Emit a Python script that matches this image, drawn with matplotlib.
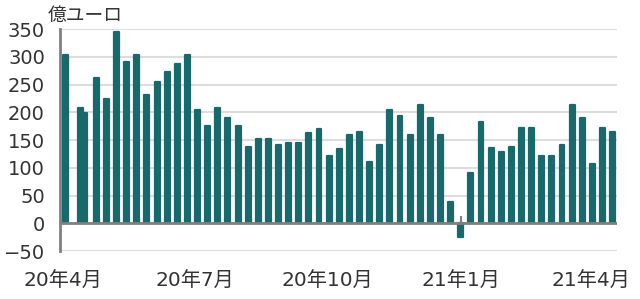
import numpy as np
import pandas as pd
import matplotlib
matplotlib.use('Agg')
import matplotlib.pyplot as plt
import matplotlib.dates as mdates

plt.rcParams['font.family'] = ['DejaVu Sans', 'Noto Sans CJK JP']

# weekly flows, 100 million euro
dates = pd.to_datetime([
    '2020-04-03', '2020-04-13', '2020-04-16', '2020-04-24', '2020-05-01',
    '2020-05-08', '2020-05-15', '2020-05-22', '2020-05-29', '2020-06-05',
    '2020-06-12', '2020-06-19', '2020-06-26', '2020-07-03', '2020-07-10',
    '2020-07-17', '2020-07-24', '2020-07-31', '2020-08-07', '2020-08-14',
    '2020-08-21', '2020-08-28', '2020-09-04', '2020-09-11', '2020-09-18',
    '2020-09-25', '2020-10-02', '2020-10-09', '2020-10-16', '2020-10-23',
    '2020-10-30', '2020-11-06', '2020-11-13', '2020-11-20', '2020-11-27',
    '2020-12-04', '2020-12-11', '2020-12-18', '2020-12-25', '2021-01-01',
    '2021-01-08', '2021-01-15', '2021-01-22', '2021-01-29', '2021-02-05',
    '2021-02-12', '2021-02-19', '2021-02-26', '2021-03-05', '2021-03-12',
    '2021-03-19', '2021-03-26', '2021-04-02', '2021-04-09', '2021-04-16',
])
values = [
    303, 207, 199, 262, 224,
    345, 290, 303, 231, 255,
    272, 287, 303, 204, 176,
    207, 190, 176, 138, 152,
    152, 141, 145, 145, 162,
    170, 122, 134, 159, 165,
    111, 141, 204, 194, 159,
    214, 190, 159, 38, -25,
    90, 183, 135, 128, 138,
    172, 172, 122, 122, 141,
    214, 190, 107, 172, 165,
]
tick_dates = pd.to_datetime(['2020-04-01', '2020-07-01', '2020-10-01',
                             '2021-01-01', '2021-04-01'])
tick_labels = ['20年4月', '20年7月', '20年10月', '21年1月', '21年4月']
yticks = list(range(-50, 351, 50))

bar_color = '#17696b'
text_color = '#333333'

fig = plt.figure(figsize=(6.4, 2.99), dpi=100)
ax = fig.add_axes([0.094, 0.160, 0.870, 0.743])

ax.bar(dates, values, width=3.4, color=bar_color, edgecolor=bar_color,
       linewidth=1.6, joinstyle='round', zorder=2)
ax.axhline(0, color='#808080', linewidth=2, zorder=3)

ax.set_ylim(-50, 350)
ax.set_xlim(pd.Timestamp('2020-03-30'), pd.Timestamp('2021-04-19'))
ax.set_yticks(yticks)
ax.yaxis.grid(True, color='#dddddd', linewidth=1.5, zorder=0)
ax.set_axisbelow(True)

ax.set_xticks(tick_dates)
ax.set_xticklabels(tick_labels)
ax.tick_params(axis='x', length=0, pad=15, labelsize=14.5, colors=text_color)
ax.tick_params(axis='y', length=0, pad=11, labelsize=14, colors=text_color)

for side in ['top', 'right', 'bottom']:
    ax.spines[side].set_visible(False)
ax.spines['left'].set_color('#808080')
ax.spines['left'].set_linewidth(2)

# small tick marks sitting on the zero line
sec = ax.secondary_xaxis(0, transform=ax.transData)
sec.set_xticks(tick_dates)
sec.set_xticklabels([])
sec.tick_params(direction='in', length=5, width=1.5, color='#808080')
sec.spines['bottom'].set_visible(False)

fig.text(0.075, 0.95, '億ユーロ', fontsize=13.5, color=text_color,
         va='center', ha='left')

fig.savefig('out.png', dpi=100)
